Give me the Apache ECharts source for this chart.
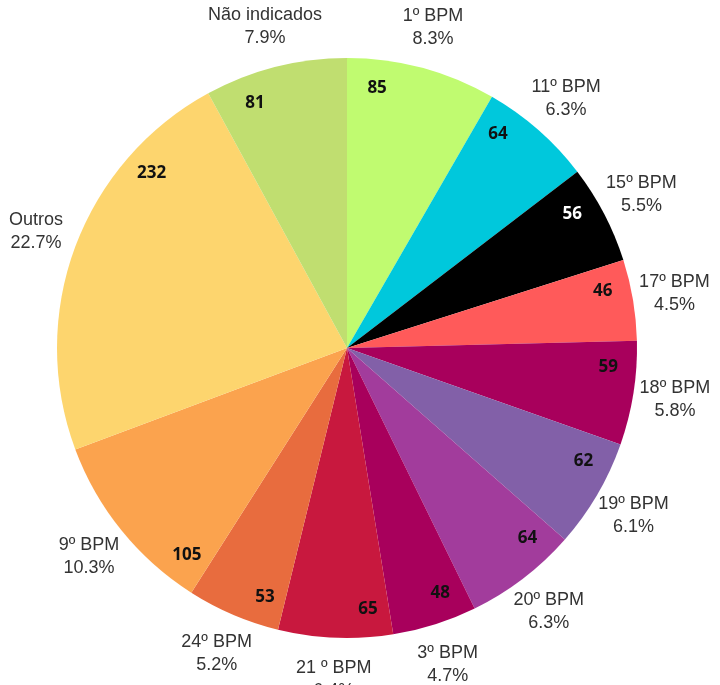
<!DOCTYPE html>
<html>
<head>
<meta charset="utf-8">
<script src="https://cdn.jsdelivr.net/npm/echarts@6/dist/echarts.min.js"></script>
<style>
  html, body { margin: 0; padding: 0; background: #fff; }
  #container { width: 720px; height: 685px; }
</style>
</head>
<body>
<div id="container"></div>
<script>
var categories = ['1º BPM', '11º BPM', '15º BPM', '17º BPM', '18º BPM', '19º BPM', '20º BPM',
  '3º BPM', '21 º BPM', '24º BPM', '9º BPM', 'Outros', 'Não indicados'];
var values = [85, 64, 56, 46, 59, 62, 64, 48, 65, 53, 105, 232, 81];
var colors = ['#c0fb70', '#00c8dc', '#000000', '#ff5a5a', '#a8005c', '#8260a8', '#a23c9c',
  '#a8005c', '#c8183e', '#e86c3e', '#fba34e', '#fdd56e', '#c0de70'];
// where the value label sits inside its slice (share of the slice, clockwise)
var numberAt = [0.22, 0.23, 0.34, 0.31, 0.27, 0.28, 0.23, 0.31, 0.2, 0.24, 0.14, 0.76, 0.28];

var dom = document.getElementById('container');
var myChart = echarts.init(dom, null, { renderer: 'canvas' });

var center = [347, 348];

var pieData = categories.map(function (name, i) {
  return { name: name, value: values[i], itemStyle: { color: colors[i] } };
});
var ghostData = categories.map(function (name, i) {
  return { name: name, value: values[i] };
});

// split every slice in three so the middle piece is centred where the number goes
var numberData = [];
categories.forEach(function (name, i) {
  var v = values[i], f = numberAt[i];
  var w = 2 * Math.min(f, 1 - f) * v;
  var pre = f * v - w / 2;
  var post = v - pre - w;
  var txt = colors[i] === '#000000' ? '#fff' : '#111';
  numberData.push({ name: name + '_a', value: pre, label: { show: false } });
  numberData.push({ name: name, value: w, label: { show: true, formatter: String(v), color: txt } });
  numberData.push({ name: name + '_b', value: post, label: { show: false } });
});

var option = {
  backgroundColor: '#fff',
  animation: false,
  series: [
    {
      type: 'pie',
      center: center,
      radius: [0, 290],
      startAngle: 90,
      clockwise: true,
      label: { show: false },
      labelLine: { show: false },
      itemStyle: { borderWidth: 0 },
      data: pieData
    },
    {
      // numbers near the rim
      type: 'pie',
      silent: true,
      center: center,
      radius: [228, 290],
      startAngle: 90,
      minAngle: 0,
      stillShowZeroSum: false,
      itemStyle: { color: 'rgba(0,0,0,0)' },
      label: {
        position: 'inside',
        fontFamily: 'Open Sans',
        fontWeight: 'bold',
        fontSize: 17
      },
      labelLine: { show: false },
      data: numberData
    },
    {
      // name + percent outside
      type: 'pie',
      silent: true,
      center: center,
      radius: [290, 368],
      startAngle: 90,
      percentPrecision: 1,
      itemStyle: { color: 'rgba(0,0,0,0)' },
      label: {
        show: true,
        position: 'inside',
        formatter: '{b}\n{d}%',
        color: '#333',
        fontFamily: 'Liberation Sans',
        fontSize: 18,
        lineHeight: 23,
        align: 'center'
      },
      labelLine: { show: false },
      data: ghostData
    }
  ]
};

myChart.setOption(option);
window.addEventListener('resize', myChart.resize);
</script>
</body>
</html>
